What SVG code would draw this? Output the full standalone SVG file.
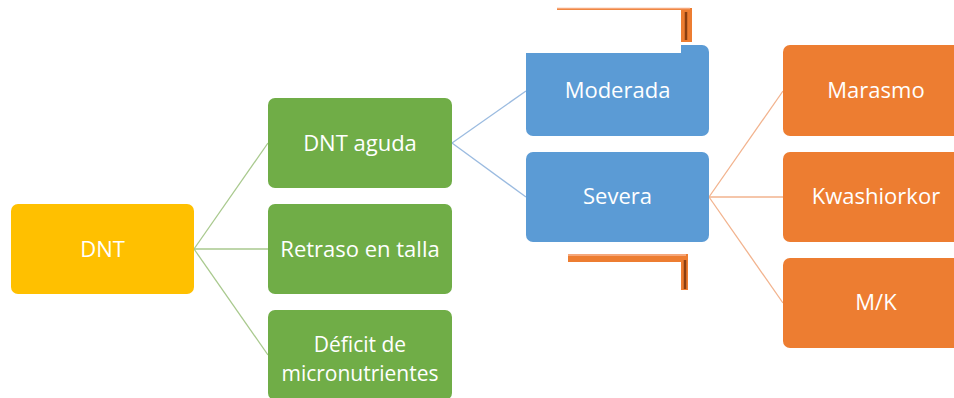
<svg xmlns="http://www.w3.org/2000/svg" width="954" height="398" viewBox="0 0 954 398">
<style>
.t{font-family:"Open Sans","Liberation Sans",sans-serif;font-size:22px;fill:#fff;text-anchor:middle}
.s{font-size:21px}
.g{fill:#70AD47}.b{fill:#5B9BD5}.o{fill:#ED7D31}.y{fill:#FFC000}
.lg{stroke:#A9C98E;stroke-width:1.3;fill:none}
.lb{stroke:#9BBBE0;stroke-width:1.3;fill:none}
.lo{stroke:#F2B38E;stroke-width:1.3;fill:none}
</style>
<rect width="954" height="398" fill="#fff"/>
<g id="artifacts">
<rect x="557" y="8" width="135" height="34" fill="#ED7D31"/>
<line x1="557" y1="8.5" x2="690" y2="8.5" stroke="#F6A77A" stroke-width="1.5"/>
<line x1="686" y1="12" x2="686" y2="40" stroke="#8B3E10" stroke-width="2.5"/>
<rect x="568" y="254" width="120" height="36" fill="#ED7D31"/>
<line x1="568" y1="255" x2="686" y2="255" stroke="#F6A77A" stroke-width="2"/>
<line x1="685" y1="260" x2="685" y2="289" stroke="#8B3E10" stroke-width="2.5"/>
<rect x="568" y="262" width="113" height="30" fill="#fff"/>
</g>
<g id="connectors">
<line class="lg" x1="194" y1="249" x2="268" y2="143"/>
<line class="lg" x1="194" y1="249" x2="268" y2="249"/>
<line class="lg" x1="194" y1="249" x2="268" y2="355"/>
<line class="lb" x1="452" y1="143" x2="526" y2="91"/>
<line class="lb" x1="452" y1="143" x2="526" y2="197"/>
<line class="lo" x1="709" y1="197" x2="783" y2="91"/>
<line class="lo" x1="709" y1="197" x2="783" y2="197"/>
<line class="lo" x1="709" y1="197" x2="783" y2="303"/>
</g>
<g id="dnt"><rect class="y" x="11" y="204" width="183" height="90" rx="7"/><text class="t" x="102.5" y="257">DNT</text></g>
<g id="aguda"><rect class="g" x="268" y="98" width="184" height="90" rx="7"/><text class="t" x="360" y="151">DNT aguda</text></g>
<g id="retraso"><rect class="g" x="268" y="204" width="184" height="90" rx="7"/><text class="t" x="360" y="257">Retraso en talla</text></g>
<g id="deficit"><rect class="g" x="268" y="310" width="184" height="90" rx="7"/><text class="t s" x="360" y="352">Déficit de</text><text class="t s" x="360" y="381">micronutrientes</text></g>
<g id="moderada"><rect class="b" x="526" y="45" width="183" height="91" rx="7"/><text class="t" x="617.5" y="98">Moderada</text></g>
<g id="severa"><rect class="b" x="526" y="152" width="183" height="90" rx="7"/><text class="t" x="617.5" y="204">Severa</text></g>
<g id="marasmo"><rect class="o" x="783" y="45" width="180" height="91" rx="7"/><text class="t" x="876" y="98">Marasmo</text></g>
<g id="kwashiorkor"><rect class="o" x="783" y="152" width="180" height="90" rx="7"/><text class="t" x="876" y="204">Kwashiorkor</text></g>
<g id="mk"><rect class="o" x="783" y="258" width="180" height="90" rx="7"/><text class="t" x="876" y="310">M/K</text></g>
<rect x="520" y="10" width="161" height="43" fill="#fff"/>
</svg>
